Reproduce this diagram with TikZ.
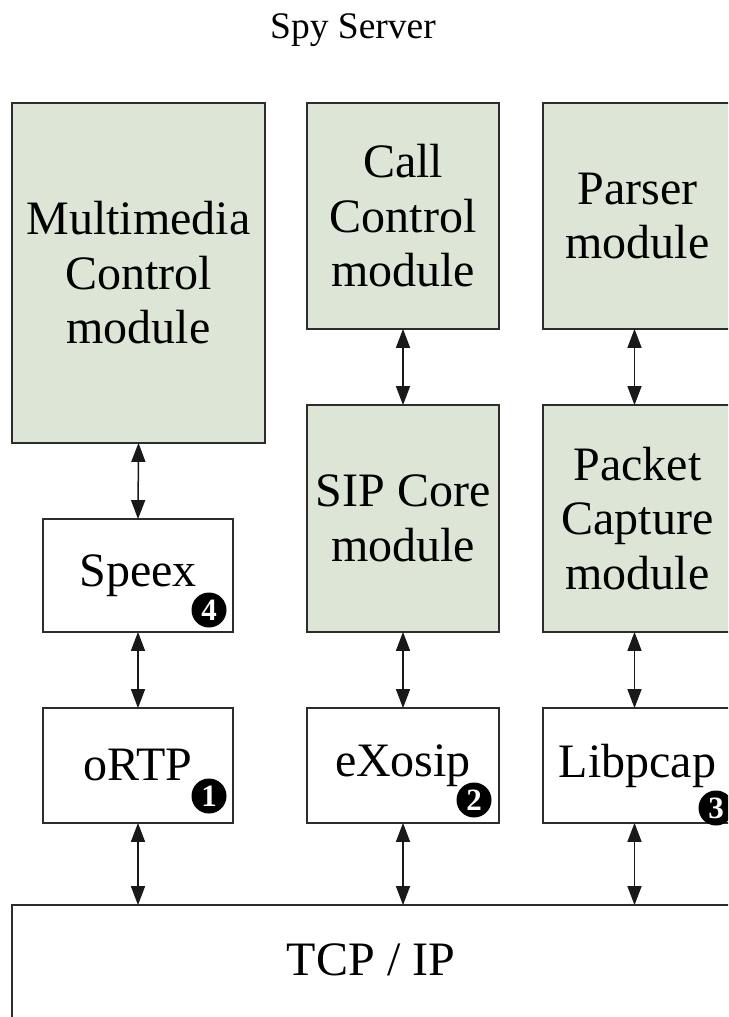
\documentclass[tikz,border=0pt]{standalone}
\usepackage{fontspec}
\setmainfont{Liberation Serif}
\usetikzlibrary{arrows.meta}
\definecolor{modfill}{RGB}{221,229,215}
\definecolor{edge}{RGB}{45,45,45}
\definecolor{shaft}{RGB}{25,25,25}
\tikzset{
  box/.style={draw=edge, line width=1.8pt, inner sep=0pt, align=center,
    font=\fontsize{48}{54.5}\selectfont},
  modbox/.style={box, fill=modfill},
  libbox/.style={box, fill=white},
  badge/.style={circle, fill=black, text=white, inner sep=0pt, minimum size=35pt,
    font=\fontsize{31}{31}\selectfont\bfseries},
  link/.style={line width=1.5pt, draw=shaft, {Triangle[length=19pt,width=14pt]}-{Triangle[length=19pt,width=14pt]}, shorten <=-1pt, shorten >=-1pt}
}
\begin{document}
\begin{tikzpicture}[x=1pt,y=-1pt]
\useasboundingbox (0,0) rectangle (728,1017);
\clip (0,0) rectangle (728,1017);
\fill[white] (0,0) rectangle (728,1017);
\node[font=\fontsize{37.5}{40}\selectfont] (title) at (353,30) {Spy Server};
% top modules
\node[modbox, minimum width=253pt, minimum height=340pt] (mm) at (138.5,273) {Multimedia\\Control\\module};
\node[modbox, minimum width=192pt, minimum height=226pt] (cc) at (403,216) {Call\\Control\\module};
\node[modbox, minimum width=189pt, minimum height=226pt] (parser) at (637.5,216) {Parser\\module};
% middle modules
\node[modbox, minimum width=192pt, minimum height=227pt] (sip) at (403,518.5) {SIP Core\\module};
\node[modbox, minimum width=189pt, minimum height=227pt] (pc) at (637.5,518.5) {Packet\\Capture\\module};
\node[libbox, minimum width=190pt, minimum height=113pt] (speex) at (138,575.5) {Speex};
% libraries
\node[libbox, minimum width=190pt, minimum height=115pt] (ortp) at (138,765.5) {oRTP};
\node[libbox, minimum width=192pt, minimum height=115pt] (exosip) at (403,765.5) {eXosip};
\node[libbox, minimum width=189pt, minimum height=115pt] (libpcap) at (637.5,765.5) {Libpcap};
% network
\node[libbox, minimum width=722pt, minimum height=130pt] (tcp) at (373,970) {};
\node[font=\fontsize{48}{54.5}\selectfont] (tcptext) at (371,960) {TCP / IP};
% badges
\node[badge] (b4) at (209,610) {4};
\node[badge] (b1) at (209,796) {1};
\node[badge] (b2) at (474,800) {2};
\node[badge] (b3) at (716,808) {3};
% connectors
\draw[link] (mm.south) -- (speex.north);
\draw[link] (speex.south) -- (ortp.north);
\draw[link] (ortp.south) -- (ortp.south |- tcp.north);
\draw[link] (cc.south) -- (sip.north);
\draw[link] (sip.south) -- (exosip.north);
\draw[link] (exosip.south) -- (exosip.south |- tcp.north);
\draw[link] ([xshift=-3pt]parser.south) -- ([xshift=-3pt]pc.north);
\draw[link] ([xshift=-3pt]pc.south) -- ([xshift=-3pt]libpcap.north);
\draw[link] ([xshift=-3pt]libpcap.south) -- ([xshift=-3pt]libpcap.south |- tcp.north);
\end{tikzpicture}
\end{document}
